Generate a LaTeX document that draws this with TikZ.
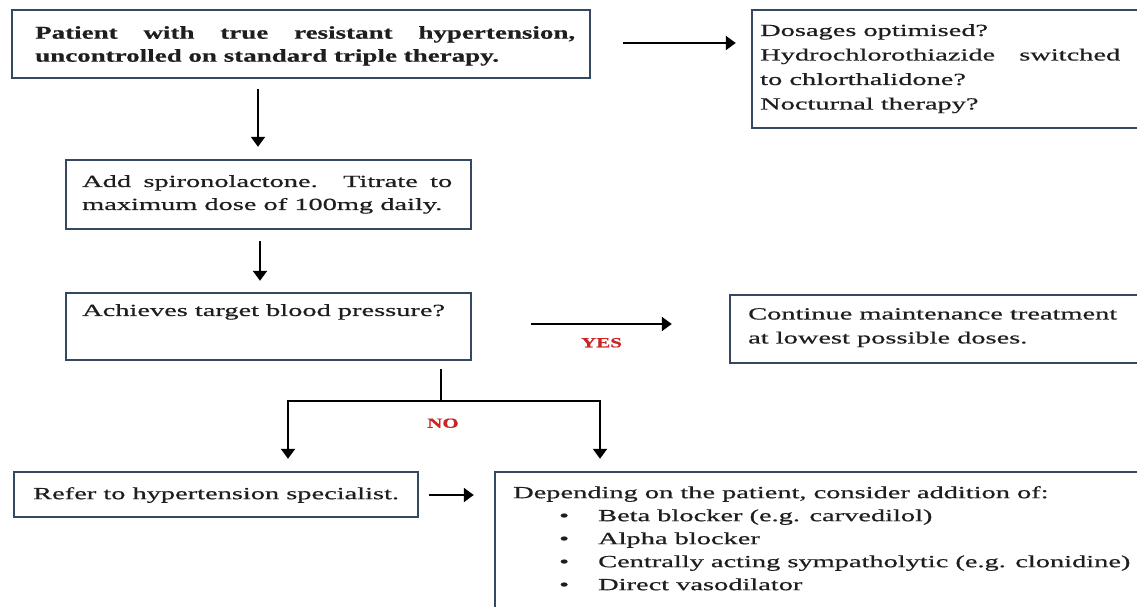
\documentclass[tikz,border=0pt]{standalone}
\usepackage{fontspec}
\setmainfont{Liberation Serif}[FakeStretch=1.67,FakeBold=0.6]
\newfontfamily\hdfont{Liberation Serif}[FakeStretch=1.5,BoldFeatures={FakeBold=0.5}]
\usetikzlibrary{arrows.meta,calc}
\definecolor{boxline}{RGB}{52,72,98}
\definecolor{inktext}{RGB}{30,30,30}
\definecolor{lblred}{RGB}{205,35,35}
\begin{document}
\begin{tikzpicture}[x=1pt,y=-1pt,
  box/.style={draw=boxline, line width=2.4pt, fill=white, rectangle, inner sep=0pt},
  arr/.style={line width=2pt, draw=black, -{Triangle[width=14pt,length=10pt]}},
  conn/.style={line width=2pt, draw=black},
  reg/.style={inner sep=0pt, anchor=north west, text=inktext, font=\fontsize{17}{23}\selectfont},
  hd/.style={inner sep=0pt, anchor=north west, text=inktext, font=\hdfont\bfseries\fontsize{18}{23}\selectfont},
  lbl/.style={inner sep=0pt, text=lblred, font=\hdfont\bfseries\fontsize{14}{16}\selectfont}
]
\fill[white] (0,0) rectangle (1137,607);
\useasboundingbox (0,0) rectangle (1137,607);

% boxes
\node[box, minimum width=578pt, minimum height=68pt] (b1) at (301,44) {};
\node[box, minimum width=393pt, minimum height=118pt] (tr) at (948.5,69) {};
\node[box, minimum width=405pt, minimum height=69pt] (b2) at (268.5,194.5) {};
\node[box, minimum width=405pt, minimum height=67pt] (b3) at (268.5,326.5) {};
\node[box, minimum width=415pt, minimum height=68pt] (b4) at (937.5,329) {};
\node[box, minimum width=404pt, minimum height=45pt] (b5) at (216,494.5) {};
\node[box, minimum width=650pt, minimum height=153pt] (b6) at (820,548.5) {};

% texts
\node[hd, text width=540pt, align=justify] (t1) at (35,26)
  {Patient with true resistant hypertension,\linebreak uncontrolled on standard triple therapy.};
\node[reg, text width=360pt, align=justify, font=\fontsize{17}{24.5}\selectfont] (t2) at (760,24)
  {Dosages optimised?\\ Hydrochlorothiazide switched\linebreak to chlorthalidone?\\ Nocturnal therapy?};
\node[reg, text width=370pt, align=justify] (t3) at (82,175)
  {Add spironolactone. Titrate to\linebreak maximum dose of 100mg daily.};
\node[reg] (t4) at (82,304) {Achieves target blood pressure?};
\node[reg, align=left, font=\fontsize{17}{24}\selectfont] (t5) at (748,308)
  {Continue maintenance treatment\\ at lowest possible doses.};
\node[reg] (t6) at (33,487) {Refer to hypertension specialist.};
\node[reg, align=left] (t7) at (513,486)
  {Depending on the patient, consider addition of:\\
   \hspace*{46pt}\makebox[39pt][l]{\textbullet}Beta blocker (e.g. carvedilol)\\
   \hspace*{46pt}\makebox[39pt][l]{\textbullet}Alpha blocker\\
   \hspace*{46pt}\makebox[39pt][l]{\textbullet}Centrally acting sympatholytic (e.g. clonidine)\\
   \hspace*{46pt}\makebox[39pt][l]{\textbullet}Direct vasodilator};

% connectors
\draw[arr] ($(b1.east)+(32,-1)$) -- ($(b1.east -| tr.west)+(-15,-1)$);
\draw[arr] ($(b1.south)+(-43,10)$) -- ($(b2.north)+(-10.5,-12)$);
\draw[arr] ($(b2.south)+(-8.5,11)$) -- ($(b3.north)+(-8.5,-11)$);
\draw[arr] ($(b3.east)+(59,-2.5)$) -- node[lbl, midway, below=13pt] (yes) {YES} ($(b3.east -| b4.west)+(-57,-2.5)$);

\coordinate (st) at ($(b3.south)+(172.5,8)$);
\coordinate (jn) at ($(b3.south)+(172.5,40)$);
\draw[conn] (st) -- (jn);
\draw[arr] (jn) -| ($(b5.north)+(72,-12)$);
\draw[arr] (jn) -| ($(b6.north)+(-220,-12)$);
\node[lbl] (no) at ($(jn)+(2,22)$) {NO};

\draw[arr] ($(b5.east)+(10,0.5)$) -- ($(b5.east -| b6.west)+(-20,0.5)$);
\end{tikzpicture}
\end{document}
